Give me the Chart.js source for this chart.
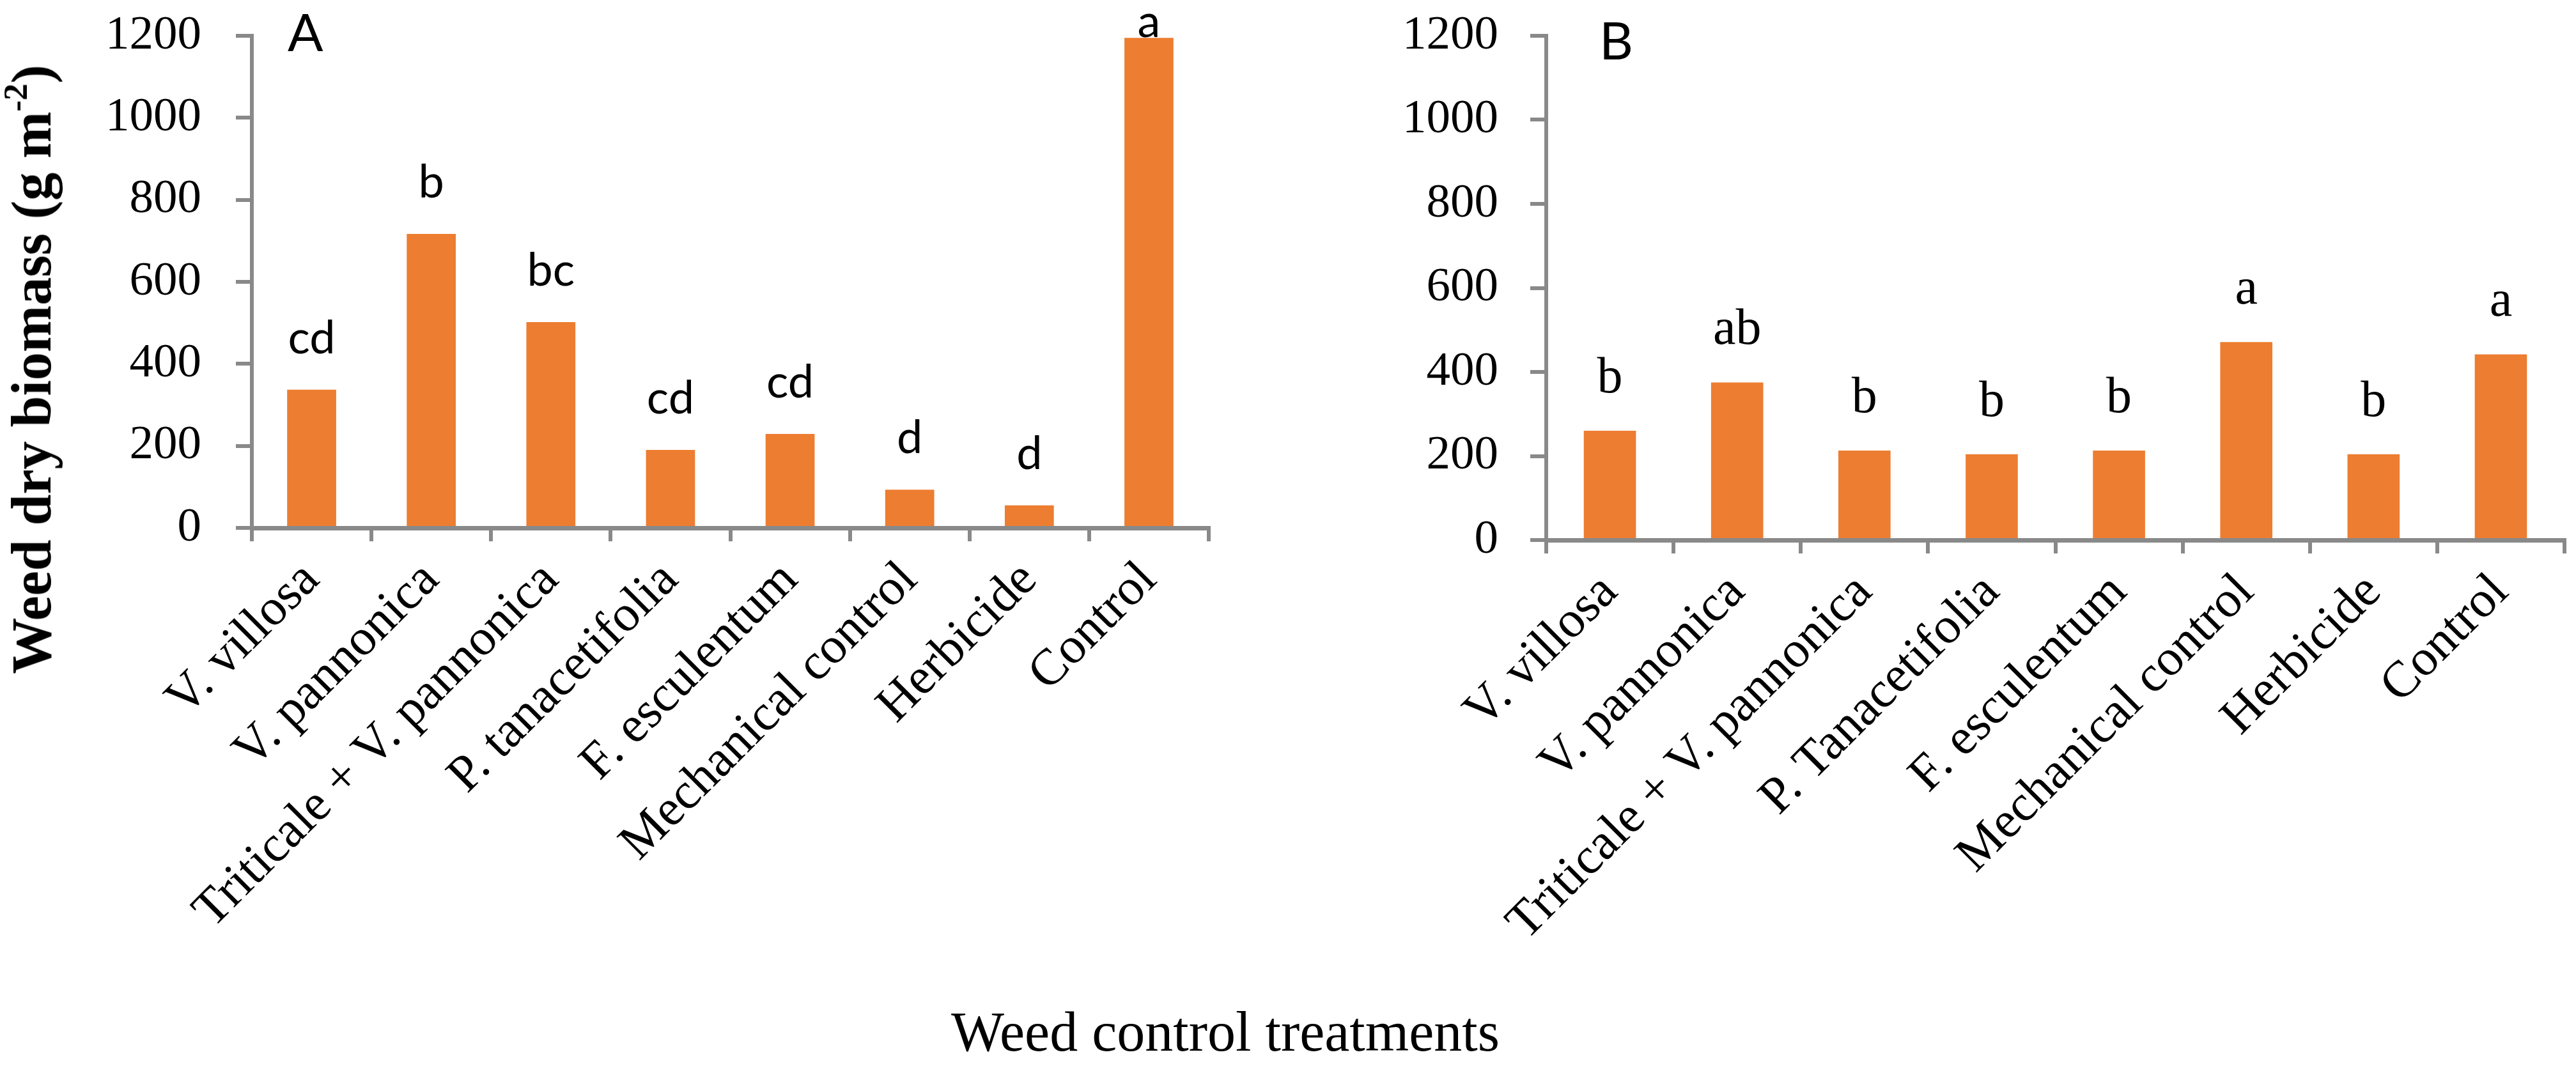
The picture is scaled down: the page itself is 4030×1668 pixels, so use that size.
<!DOCTYPE html>
<html><head><meta charset="utf-8">
<script src="https://cdn.jsdelivr.net/npm/chart.js@4.4.1/dist/chart.umd.min.js"></script>
<style>
html,body{margin:0;padding:0;background:#fff;}
body{width:4030px;height:1668px;position:relative;overflow:hidden;}
#wa{position:absolute;left:0;top:0;width:1960px;height:1668px;}
#wb{position:absolute;left:2000px;top:0;width:2030px;height:1668px;}
.ytitle{position:absolute;left:50px;top:578px;transform:translate(-50%,-50%) rotate(-90deg);font-family:"Liberation Serif",serif;font-weight:bold;font-size:88px;line-height:88px;white-space:nowrap;color:#000;}
.ytitle sup{font-size:0.6em;line-height:0;vertical-align:0.7em;}
.xtitle{position:absolute;left:1917px;top:1571px;transform:translateX(-50%);font-family:"Liberation Serif",serif;font-size:88px;line-height:88px;white-space:nowrap;color:#000;}
</style></head>
<body>
<div id="wa"><canvas id="ca"></canvas></div>
<div id="wb"><canvas id="cb"></canvas></div>
<div class="ytitle">Weed dry biomass (g m<sup>-2</sup>)</div>
<div class="xtitle">Weed control treatments</div>
<script>
const categoriesA = ['V. villosa','V. pannonica','Triticale + V. pannonica','P. tanacetifolia','F. esculentum','Mechanical control','Herbicide','Control'];
const categoriesB = ['V. villosa','V. pannonica','Triticale + V. pannonica','P. Tanacetifolia','F. esculentum','Mechanical control','Herbicide','Control'];
const biomassA = [337,717,502,190,229,93,55,1195];
const biomassB = [260,375,213,204,213,471,204,442];
const lettersA = ['cd','b','bc','cd','cd','d','d','a'];
const lettersB = ['b','ab','b','b','b','a','b','a'];
const panelA = 'A';
const panelB = 'B';
const yMin = 0, yMax = 1200, yStep = 200;

const AXIS = '#898989';
const BAR = '#ED7D31';

const letterPlugin = {
  id: 'letters',
  afterDatasetsDraw(chart, args, o) {
    const ctx = chart.ctx;
    const meta = chart.getDatasetMeta(0);
    ctx.save();
    ctx.fillStyle = '#000';
    ctx.font = o.font;
    ctx.textAlign = 'center';
    ctx.textBaseline = 'alphabetic';
    meta.data.forEach((el, i) => {
      let y = el.y - o.gap;
      const minY = chart.chartArea.top + 2;
      if (y < minY) y = minY;
      ctx.fillText(o.labels[i], el.x, y);
    });
    ctx.restore();
  }
};
const panelPlugin = {
  id: 'panel',
  afterDraw(chart, args, o) {
    const ctx = chart.ctx;
    ctx.save();
    ctx.fillStyle = '#000';
    ctx.font = o.font;
    ctx.textAlign = 'left';
    ctx.textBaseline = 'alphabetic';
    ctx.fillText(o.text, chart.chartArea.left + o.dx, chart.chartArea.top + o.dy);
    ctx.restore();
  }
};

function makeChart(id, labels, values, letters, cfg) {
  return new Chart(document.getElementById(id), {
    type: 'bar',
    data: { labels: labels, datasets: [{ data: values, backgroundColor: BAR, borderWidth: 0, barPercentage: 0.41, categoryPercentage: 1.0 }] },
    plugins: [letterPlugin, panelPlugin],
    options: {
      responsive: true, maintainAspectRatio: false, animation: false, devicePixelRatio: 1,
      layout: { padding: { left: 0, top: cfg.top, right: cfg.right, bottom: 0 } },
      plugins: {
        legend: { display: false }, tooltip: { enabled: false },
        letters: { labels: letters, font: cfg.letterFont, gap: cfg.gap },
        panel: { text: cfg.panel, font: '82px Lato', dx: cfg.pdx, dy: cfg.pdy }
      },
      scales: {
        x: {
          offset: true,
          grid: { offset: true, drawOnChartArea: false, drawTicks: true, tickLength: 21, color: AXIS, lineWidth: 6 },
          border: { color: AXIS, width: 7 },
          ticks: { autoSkip: false, minRotation: 45, maxRotation: 45, color: '#000', font: { family: 'Liberation Serif', size: 80 }, padding: 14 },
          afterFit: s => { s.height = cfg.xH; s.paddingLeft = 0; s.paddingRight = 0; }
        },
        y: {
          min: yMin, max: yMax,
          grid: { drawOnChartArea: false, drawTicks: true, tickLength: 25, color: AXIS, lineWidth: 6 },
          border: { color: AXIS, width: 6 },
          ticks: { stepSize: yStep, color: '#000', font: { family: 'Liberation Serif', size: 75 }, padding: cfg.tp, callback: v => String(v) },
          afterFit: s => { s.width = cfg.yW; s.paddingTop = 0; s.paddingBottom = 0; }
        }
      }
    }
  });
}

makeChart('ca', categoriesA, biomassA, lettersA, {
  top: 56, right: 69, xH: 842, yW: 394, tp: 54,
  letterFont: '72px Lato', gap: 57, panel: panelA, pdx: 56, pdy: 24
});
makeChart('cb', categoriesB, biomassB, lettersB, {
  top: 56, right: 18, xH: 823, yW: 419, tp: 50,
  letterFont: '80px "Liberation Serif"', gap: 60, panel: panelB, pdx: 83, pdy: 37
});
</script>
</body></html>
